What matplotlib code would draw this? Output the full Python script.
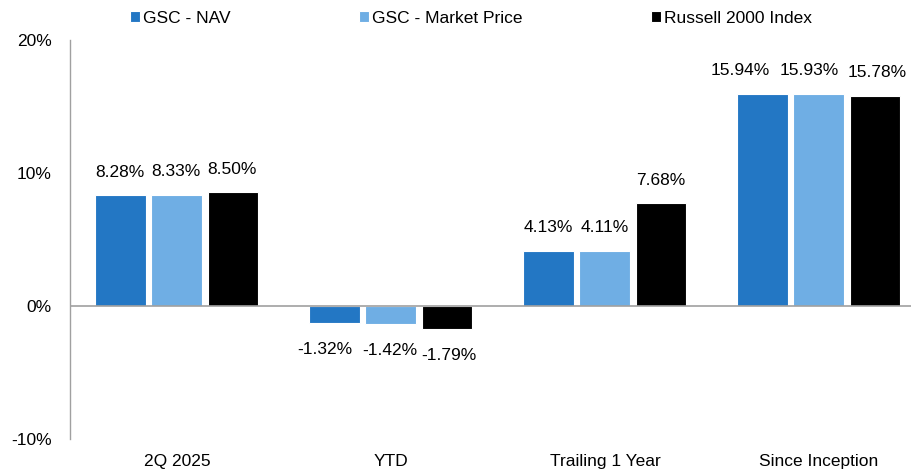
import matplotlib.pyplot as plt
import numpy as np

categories = ["2Q 2025", "YTD", "Trailing 1 Year", "Since Inception"]
series_names = ["GSC - NAV", "GSC - Market Price", "Russell 2000 Index"]
nav = [8.28, -1.32, 4.13, 15.94]
market_price = [8.33, -1.42, 4.11, 15.93]
russell = [8.50, -1.79, 7.68, 15.78]
y_ticks = [-10, 0, 10, 20]
y_tick_labels = ["-10%", "0%", "10%", "20%"]

colors = ["#2377C4", "#6FAEE4", "#000000"]
# horizontal nudges of the value labels (points), like the crowded labels in the original
label_dx = [
    [-0.5, -7, -0.5, -16],
    [-0.5, -0.5, -0.5, -7],
    [-0.5, 1.5, -0.5, 1.5],
]

plt.rcParams["font.family"] = ["Liberation Sans", "DejaVu Sans"]

fig = plt.figure(figsize=(9.11, 4.75), dpi=100)
ax = fig.add_axes([0.0768, 0.0768, 0.9396, 0.84])

x = np.arange(len(categories))
width = 0.238
step = 0.262

for i, (name, vals, col) in enumerate(zip(series_names, [nav, market_price, russell], colors)):
    pos = x + (i - 1) * step
    bars = ax.bar(pos, vals, width=width, color=col, edgecolor="white", linewidth=0.8, label=name, zorder=2)
    for j, (b, v) in enumerate(zip(bars, vals)):
        off = 16.5 if v >= 0 else -19
        ax.annotate(f"{v:.2f}%", (b.get_x() + b.get_width() / 2, v), xytext=(label_dx[i][j], off),
                    textcoords="offset points", ha="center", va="center", fontsize=12.5)

ax.set_xlim(-0.5, len(categories) - 0.5)
ax.set_ylim(-10, 20)
ax.axhline(0, color="#a0a0a0", linewidth=1.2, zorder=3)

for s in ["top", "right", "bottom"]:
    ax.spines[s].set_visible(False)
ax.spines["left"].set_color("#a0a0a0")
ax.spines["left"].set_linewidth(1)

ax.set_yticks(y_ticks)
ax.set_yticklabels(y_tick_labels, fontsize=12.5)
ax.set_xticks(x)
ax.set_xticklabels(categories, fontsize=12.5)
ax.tick_params(axis="y", length=0, pad=13)
ax.tick_params(axis="x", length=0, pad=11.5)

leg = fig.legend(loc="center left", bbox_to_anchor=(0.143, 0.962), ncol=3, frameon=False,
                 fontsize=12.5, handlelength=0.55, handleheight=0.55, handletextpad=0.2,
                 columnspacing=7.4, borderaxespad=0, borderpad=0)

fig.savefig("out.png", dpi=100)
